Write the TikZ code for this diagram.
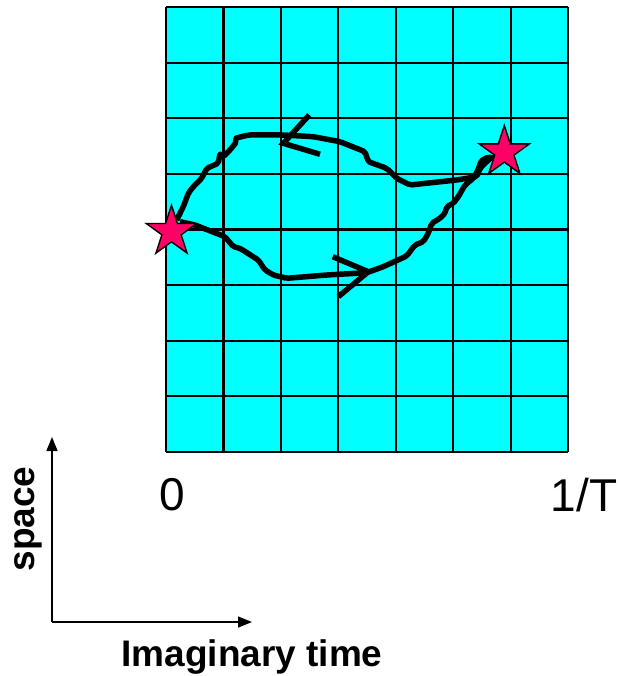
\documentclass[tikz,border=0pt]{standalone}
\usepackage{fontspec}
\setmainfont{Liberation Sans}
\usetikzlibrary{arrows.meta, shapes.geometric}
\definecolor{lattice}{HTML}{00FFFF}
\definecolor{starpink}{HTML}{FF0066}

\begin{document}
\begin{tikzpicture}[
    x=1pt, y=-1pt,
    >={Triangle[length=14pt, width=11pt]},
    gridline/.style={line width=2.1pt},
    worldline/.style={line width=5.5pt, line join=round, rounded corners=2pt},
    chevron/.style={line width=5.5pt},
    endpoint/.style={star, star points=5, star point ratio=2.618, draw, line width=1.4pt, fill=starpink, minimum size=53pt, inner sep=0pt},
    axis/.style={->, line width=1.5pt},
    biglabel/.style={font=\fontsize{37}{40}\selectfont\bfseries},
    ticklabel/.style={font=\fontsize{46}{50}\selectfont},
]
    \useasboundingbox (0,0) rectangle (618,676);

    % lattice
    \fill[lattice] (166,7.3) rectangle (568.3,451.7);
    \foreach \i in {0,...,7}
        \draw[gridline] ({166+\i*57.47},7.3) -- ++(0,444.4);
    \foreach \j in {0,...,8}
        \draw[gridline] (166,{7.3+\j*55.55}) -- ++(402.3,0);

    % paths
    \draw[worldline] (176.7,220) -- (183.3,206.7) -- (188.3,193.3) -- (193.3,186.7) -- (201.7,178.3)
        -- (206.7,168.3) -- (212,166) -- (218.3,163.3) -- (220,153.3) -- (223.3,156.7) -- (230,150)
        -- (236.7,141.7) -- (235,138.3) -- (248.3,135) -- (283.3,135) -- (313.3,136.7) -- (340,141.7)
        -- (365,151.7) -- (368.3,161.7) -- (386.7,168.3) -- (396.7,178.3) -- (410,185) -- (456.7,180)
        -- (476.7,176.7) -- (480,168.3) -- (491.7,156.7);
    \draw[worldline] (180,221.7) -- (195,225) -- (225,236.7) -- (233.3,246.7) -- (240,248.3)
        -- (258.3,260) -- (265,270) -- (273.3,275) -- (286.7,278.3) -- (326.7,275) -- (366.7,272.7)
        -- (383.3,266.7) -- (406.7,256) -- (415,245) -- (423.3,241.7) -- (428.3,233.3) -- (431.7,223.3)
        -- (440,218.3) -- (445,213.3) -- (446.7,206.7) -- (453.3,203.3) -- (458.3,196.7) -- (465,185)
        -- (473.3,178.3) -- (478,170) -- (481,161) -- (488,157) -- (494,158);
    \draw[chevron] (309.3,115) -- (283.3,143.3) -- (320,154.3);
    \draw[chevron] (332.7,256.7) -- (368.3,271.7) -- (338.3,296.7);

    % end points
    \node[endpoint] (start) at (171.5,231.7) {};
    \node[endpoint] (finish) at (504.3,152) {};

    % axes
    \node[ticklabel] (zero) at (172,495) {0};
    \node[ticklabel] (period) at (584,495) {1/T};
    \coordinate (origin) at (52,622);
    \coordinate (spacetip) at (52,437);
    \coordinate (timetip) at (252,622);
    \draw[axis] (origin) -- (spacetip);
    \draw[axis] (origin) -- (timetip);
    \node[biglabel, rotate=90] (spacelabel) at (28,519) {space};
    \node[biglabel] (timelabel) at (252,657) {Imaginary time};
\end{tikzpicture}
\end{document}
